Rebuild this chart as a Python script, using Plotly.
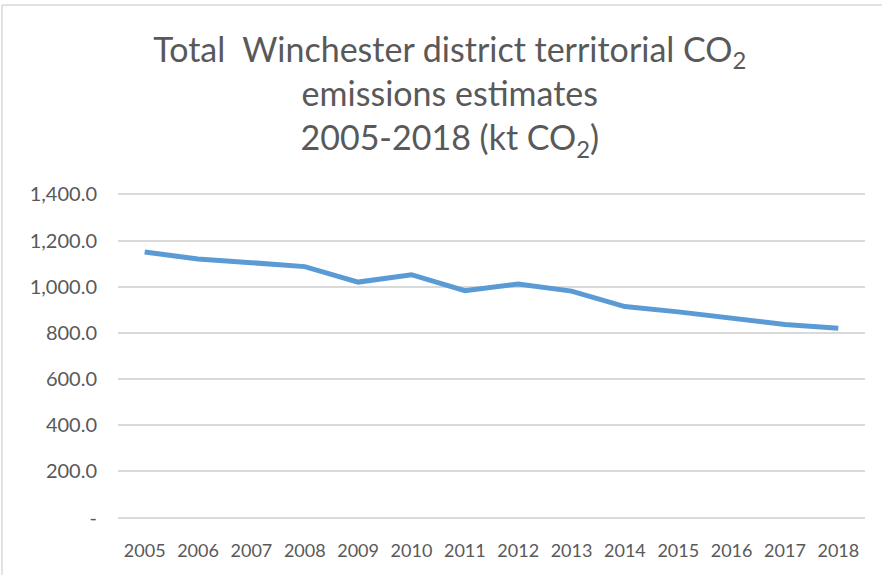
import plotly.graph_objects as go

years = ["2005", "2006", "2007", "2008", "2009", "2010", "2011",
         "2012", "2013", "2014", "2015", "2016", "2017", "2018"]
emissions = [1150, 1120, 1104, 1087, 1020, 1052, 983,
             1012, 981, 914, 891, 866, 836, 820]
y_tick_vals = [0, 200, 400, 600, 800, 1000, 1200, 1400]
y_tick_text = ["-", "200.0", "400.0", "600.0", "800.0", "1,000.0", "1,200.0", "1,400.0"]

W, H = 882, 575
L, R, T, B = 118, 17, 192, 55
pw, ph = W - L - R, H - T - B

def px_x(x):
    return (x - L) / pw

def px_y(y):
    return (H - B - y) / ph

FONT = "Lato"
TXT = "#595959"

fig = go.Figure()
fig.add_trace(go.Scatter(
    x=years, y=emissions, mode="lines",
    line=dict(color="#5b9bd5", width=5),
    hoverinfo="x+y", showlegend=False,
))

fig.update_layout(
    width=W, height=H,
    margin=dict(l=L, r=R, t=T, b=B),
    paper_bgcolor="white", plot_bgcolor="white",
    font=dict(family=FONT, color=TXT),
    title=dict(
        text="Total  Winchester district territorial CO<sub>2</sub><br>emissions estimates<br>2005-2018 (kt CO<sub>2</sub>)",
        font=dict(family=FONT, size=34, color=TXT),
        x=0.51, xanchor="center",
        y=1 - 62 / H, yanchor="top", yref="container",
    ),
    xaxis=dict(
        type="category", range=[-0.5, 13.5], autorange=False,
        showgrid=False, zeroline=False, showline=False,
        ticks="", tickfont=dict(size=18, color=TXT, family=FONT),
        ticklabelstandoff=18,
    ),
    yaxis=dict(
        range=[-10, 1410], autorange=False,
        tickvals=y_tick_vals, ticktext=y_tick_text,
        showgrid=True, gridcolor="#d9d9d9", gridwidth=1.5,
        zeroline=False, showline=False, ticks="",
        tickfont=dict(size=20, color=TXT, family=FONT),
        ticklabelstandoff=20,
    ),
    shapes=[
        dict(type="line", xref="paper", yref="paper",
             x0=px_x(2), x1=px_x(W), y0=px_y(5), y1=px_y(5),
             line=dict(color="#d9d9d9", width=1.5)),
        dict(type="line", xref="paper", yref="paper",
             x0=px_x(2), x1=px_x(2), y0=px_y(5), y1=px_y(H),
             line=dict(color="#d9d9d9", width=1.5)),
    ],
)

fig.write_html(
    "out.html",
    config={"displayModeBar": False},
    post_script="document.body.style.margin='0';document.body.style.overflow='hidden';",
)
